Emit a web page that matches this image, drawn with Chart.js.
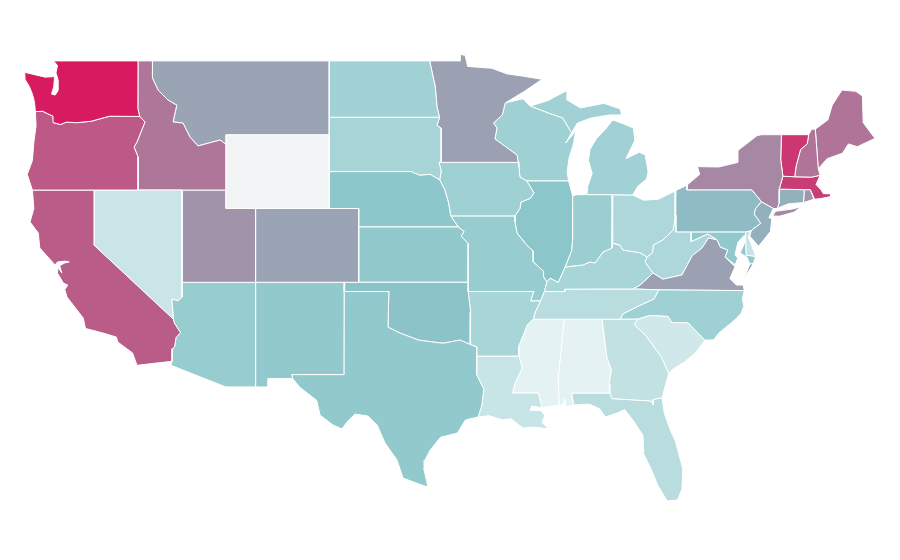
<!DOCTYPE html>
<html>
<head>
<meta charset="utf-8">
<title>US states</title>
<script src="https://cdn.jsdelivr.net/npm/chart.js@4"></script>
<style>
  body { margin: 0; background: #fff; }
  canvas { display: block; }
</style>
</head>
<body>
<canvas id="map-chart" width="900" height="560"></canvas>
<script>
// state values (null = no data)
const stateNames = ['WA','OR','CA','NV','ID','MT','WY','UT','CO','AZ','NM','TX','OK','KS','NE','SD','ND','MN','IA','MO','AR','LA','WI','IL','MI','IN','OH','KY','TN','MS','AL','GA','FL','SC','NC','VA','WV','MD','DE','NJ','PA','NY','VT','NH','ME','MA','CT','RI'];
const stateValues = [100,82,81,23,73,60,null,65,60,44,47,47,51,47,49,38,40,61,41,44,37,24,41,50,40,43,35,37,30,11,11,26,30,20,41,61,35,47,25,56,53,68,92,74,74,90,56,64];

// outlines as [lon, lat] rings
const WA = [[[-122.76,49],[-117.03,49],[-117.04,46.42],[-116.92,45.99],[-118.98,46],[-119.3,45.93],[-120.2,45.73],[-121.2,45.65],[-121.9,45.68],[-122.3,45.55],[-122.75,45.65],[-122.8,46],[-123.2,46.15],[-123.5,46.27],[-124,46.25],[-124.05,46.7],[-124.1,46.9],[-124.2,47.2],[-124.4,47.6],[-124.7,48],[-124.72,48.38],[-123.34,48.12],[-122.7,48.15],[-122.75,47.6],[-122.9,47.2],[-122.65,47.15],[-122.45,47.4],[-122.45,47.95],[-122.6,48.35],[-122.5,48.75]]];
const OR = [[[-124,46.25],[-123.5,46.27],[-123.2,46.15],[-122.8,46],[-122.75,45.65],[-122.3,45.55],[-121.9,45.68],[-121.2,45.65],[-120.2,45.73],[-119.3,45.93],[-118.98,46],[-116.92,45.99],[-116.56,45.69],[-117.1,44.6],[-117.3,44.33],[-117.03,43.8],[-117.03,42],[-124.2,42],[-124.55,42.85],[-124.2,43.6],[-124.1,44.6],[-123.95,45.5]]];
const CA = [[[-124.2,42],[-120,42],[-120,39],[-114.63,35],[-114.57,34.8],[-114.15,34.27],[-114.45,34],[-114.55,33.5],[-114.7,33.4],[-114.72,32.72],[-117.1,32.5],[-117.4,33.17],[-118.4,33.76],[-118.5,34.03],[-119.4,34.25],[-120.6,34.5],[-120.75,35.06],[-121.85,36.2],[-122,36.6],[-121.8,36.85],[-122.1,36.96],[-122.5,37.5],[-122.45,37.8],[-122.2,37.5],[-122.35,37.9],[-122,38.05],[-121.7,38.1],[-122,38.15],[-122.5,38.1],[-122.66,37.94],[-123.7,38.86],[-123.8,39.67],[-124.36,40.27],[-124.1,41]]];
const NV = [[[-120,42],[-114.04,42],[-114.04,36.2],[-114.3,36],[-114.74,36.1],[-114.63,35],[-120,39]]];
const ID = [[[-117.03,49],[-116.05,49],[-116.05,48.07],[-115.67,47.42],[-115,46.88],[-114.4,46.6],[-114.65,45.69],[-113.98,45.63],[-113.5,44.87],[-112.96,44.39],[-111.46,44.71],[-111.05,44.47],[-111.05,42],[-114.04,42],[-117.03,42],[-117.03,43.8],[-117.3,44.33],[-117.1,44.6],[-116.56,45.69],[-116.92,45.99],[-117.04,46.42]]];
const MT = [[[-116.05,49],[-104.05,49],[-104.05,45],[-111.05,45],[-111.05,44.47],[-111.46,44.71],[-112.96,44.39],[-113.5,44.87],[-113.98,45.63],[-114.65,45.69],[-114.4,46.6],[-115,46.88],[-115.67,47.42],[-116.05,48.07]]];
const WY = [[[-111.05,45],[-104.05,45],[-104.05,41],[-111.05,41]]];
const UT = [[[-114.04,42],[-111.05,42],[-111.05,41],[-109.05,41],[-109.05,37],[-114.04,37]]];
const CO = [[[-109.05,41],[-102.05,41],[-102.05,37],[-109.05,37]]];
const AZ = [[[-114.04,37],[-109.05,37],[-109.05,31.33],[-111.07,31.33],[-114.8,32.5],[-114.72,32.72],[-114.7,33.4],[-114.55,33.5],[-114.45,34],[-114.15,34.27],[-114.57,34.8],[-114.63,35],[-114.74,36.1],[-114.3,36],[-114.04,36.2]]];
const NM = [[[-109.05,37],[-103,37],[-103.04,36.5],[-103.05,32],[-106.6,32],[-106.53,31.78],[-108.2,31.78],[-108.2,31.33],[-109.05,31.33]]];
const TX = [[[-103.04,36.5],[-100,36.5],[-100.06,34.57],[-99.25,34.25],[-98,33.87],[-97,33.76],[-96.3,33.7],[-95.17,33.87],[-94.48,33.63],[-94.04,33.5],[-94.04,33],[-94.04,31.99],[-93.55,31.2],[-93.7,30.3],[-93.95,29.7],[-94.8,29.54],[-95.35,28.83],[-96.5,28.6],[-97.2,27.9],[-97.55,27.37],[-97.6,26.8],[-97.35,25.9],[-97.9,26.05],[-99.04,26.39],[-99.45,27.37],[-100.26,28.29],[-100.8,29.27],[-101.42,29.75],[-102.3,29.86],[-102.84,29.43],[-103.18,29.05],[-103.8,29.27],[-104.67,29.8],[-104.9,30.6],[-106.03,31.3],[-106.53,31.78],[-106.6,32],[-103.05,32]]];
const OK = [[[-103,37],[-94.62,37],[-94.62,36.5],[-94.45,35.4],[-94.48,33.63],[-95.17,33.87],[-96.3,33.7],[-97,33.76],[-98,33.87],[-99.25,34.25],[-100.06,34.57],[-100,36.5],[-103.04,36.5]]];
const KS = [[[-102.05,40],[-95.3,40],[-94.9,39.75],[-95.1,39.5],[-94.61,39.1],[-94.62,37],[-102.05,37]]];
const NE = [[[-104.05,43],[-98.5,43],[-97.9,42.8],[-97.2,42.85],[-96.55,42.55],[-96.2,42],[-95.95,41.3],[-95.8,40.6],[-95.3,40],[-102.05,40],[-102.05,41],[-104.05,41]]];
const SD = [[[-104.05,45.94],[-96.56,45.94],[-96.73,45.5],[-96.45,45.36],[-96.45,43.5],[-96.6,43.5],[-96.45,43.05],[-96.55,42.55],[-97.2,42.85],[-97.9,42.8],[-98.5,43],[-104.05,43]]];
const ND = [[[-104.05,49],[-97.23,49],[-96.85,47.6],[-96.73,46.5],[-96.56,45.94],[-104.05,45.94]]];
const MN = [[[-97.23,49],[-95.15,49],[-95.15,49.35],[-94.82,49.3],[-94.65,48.7],[-93,48.6],[-92,48.3],[-90.96,48.18],[-89.6,48],[-90.8,47.35],[-92.1,46.72],[-92.3,46.07],[-92.9,45.63],[-92.66,45.36],[-92.8,44.77],[-91.3,43.9],[-91.22,43.5],[-96.45,43.5],[-96.45,45.36],[-96.73,45.5],[-96.56,45.94],[-96.73,46.5],[-96.85,47.6]]];
const IA = [[[-96.6,43.5],[-91.22,43.5],[-91.17,43.25],[-91.1,42.7],[-90.65,42.5],[-90.15,41.85],[-90.4,41.55],[-91.03,41.35],[-91.1,41],[-91.44,40.6],[-95.8,40.6],[-95.95,41.3],[-96.2,42],[-96.55,42.55],[-96.45,43.05]]];
const MO = [[[-95.8,40.6],[-91.44,40.6],[-91.44,40.27],[-91.3,39.67],[-90.62,39],[-90.2,38.7],[-90.2,38.1],[-89.5,37.6],[-89.5,37.3],[-89.27,37.02],[-89.45,36.5],[-89.7,36],[-90.37,36],[-90.15,36.5],[-94.62,36.5],[-94.62,37],[-94.61,39.1],[-95.1,39.5],[-94.9,39.75],[-95.3,40]]];
const AR = [[[-94.62,36.5],[-90.15,36.5],[-90.37,36],[-89.7,36],[-90.05,35.4],[-90.2,35],[-90.6,34.7],[-91.2,33.5],[-91.17,33],[-94.04,33],[-94.04,33.5],[-94.48,33.63],[-94.45,35.4]]];
const LA = [[[-94.04,33],[-91.17,33],[-90.95,32.35],[-91.45,31.5],[-91.6,31],[-89.85,31],[-89.6,30.2],[-90.3,30.3],[-90.4,30.05],[-89.7,30.05],[-89.4,29.8],[-89.6,29.4],[-89.15,29.05],[-90.1,29.15],[-90.9,29.1],[-91.7,29.6],[-92.3,29.55],[-93.2,29.77],[-93.95,29.7],[-93.7,30.3],[-93.55,31.2],[-94.04,31.99]]];
const WI = [[[-92.1,46.72],[-90.9,46.95],[-90.4,46.55],[-89.1,46.15],[-88.2,45.9],[-87.6,45.1],[-88,44.55],[-87.3,45.2],[-87.5,44.4],[-87.75,43.8],[-87.9,43],[-87.8,42.5],[-90.65,42.5],[-91.1,42.7],[-91.17,43.25],[-91.22,43.5],[-91.3,43.9],[-92.8,44.77],[-92.66,45.36],[-92.9,45.63],[-92.3,46.07]]];
const IL = [[[-90.65,42.5],[-87.8,42.5],[-87.53,41.7],[-87.53,39.35],[-87.6,38.7],[-88.04,37.83],[-88.5,37],[-89.06,37.23],[-89.27,37.02],[-89.5,37.3],[-89.5,37.6],[-90.2,38.1],[-90.2,38.7],[-90.62,39],[-91.3,39.67],[-91.44,40.27],[-91.44,40.6],[-91.1,41],[-91.03,41.35],[-90.4,41.55],[-90.15,41.85]]];
const MI = [
  [[-86.55,41.76],[-84.8,41.75],[-83.45,41.73],[-83.1,42.2],[-82.5,42.6],[-82.4,43],[-82.6,43.9],[-83,44.05],[-83.4,43.9],[-83.9,43.7],[-83.3,44.7],[-83.4,45.36],[-84.1,45.6],[-84.8,45.8],[-85.3,45.3],[-85.9,44.8],[-86.35,44.2],[-86.45,43.6],[-86.2,42.9],[-86.5,42.2]],
  [[-87.6,45.1],[-88.2,45.9],[-89.1,46.15],[-90.4,46.55],[-89.2,46.85],[-88.5,47.15],[-87.85,47.42],[-87.9,46.88],[-87,46.45],[-85.4,46.7],[-84.3,46.4],[-84.2,46.07],[-85,46.07],[-86.3,45.9],[-87.2,45.63]]
];
const IN = [[[-87.53,41.7],[-87.2,41.75],[-84.8,41.75],[-84.85,39.13],[-84.85,38.86],[-85.46,38.64],[-86,38.05],[-86.35,38.1],[-86.82,37.94],[-88.04,37.83],[-87.6,38.7],[-87.53,39.35]]];
const OH = [[[-84.8,41.75],[-83.45,41.73],[-82.7,41.45],[-81.7,41.5],[-80.52,41.97],[-80.57,40.54],[-80.7,39.83],[-81.4,39.3],[-82.05,39.02],[-82.1,38.6],[-82.48,38.37],[-82.95,38.6],[-84.1,38.75],[-84.31,39.02],[-84.85,39.13]]];
const KY = [[[-89.45,36.5],[-89.27,37.02],[-89.06,37.23],[-88.5,37],[-88.04,37.83],[-86.82,37.94],[-86.35,38.1],[-86,38.05],[-85.46,38.64],[-84.85,38.86],[-84.85,39.13],[-84.31,39.02],[-84.1,38.75],[-82.95,38.6],[-82.48,38.37],[-82.61,38.1],[-82.07,37.5],[-82.95,36.85],[-83.43,36.64],[-88.05,36.63],[-88.07,36.5]]];
const TN = [[[-88.07,36.5],[-88.05,36.63],[-83.43,36.64],[-81.68,36.59],[-82,36.1],[-82.95,35.75],[-84.1,35.3],[-84.3,35],[-85.53,35],[-88.1,35],[-90.2,35],[-90.05,35.4],[-89.7,36],[-89.45,36.5]]];
const MS = [[[-90.2,35],[-88.1,35],[-88.5,31.85],[-88.45,30.35],[-89.6,30.2],[-89.85,31],[-91.6,31],[-91.45,31.5],[-90.95,32.35],[-91.17,33],[-91.2,33.5],[-90.6,34.7]]];
const AL = [[[-88.1,35],[-85.53,35],[-85.2,32.9],[-84.9,32.25],[-85.05,31.5],[-85,31],[-87.6,31],[-87.45,30.35],[-88,30.25],[-88.05,30.7],[-88.2,30.35],[-88.45,30.35],[-88.5,31.85]]];
const GA = [[[-85.53,35],[-83.1,35],[-83.35,34.7],[-82.6,34.15],[-81.5,32.95],[-81,32.05],[-81.2,31.5],[-81.45,30.75],[-82.05,30.65],[-82.05,30.36],[-82.2,30.57],[-84.86,30.7],[-85,31],[-85.05,31.5],[-84.9,32.25],[-85.2,32.9]]];
const FL = [[[-87.6,31],[-85,31],[-84.86,30.7],[-82.2,30.57],[-82.05,30.36],[-82.05,30.65],[-81.45,30.75],[-81.3,29.9],[-80.9,29],[-80.55,28.4],[-80.05,26.9],[-80.1,25.8],[-80.4,25.2],[-81.1,25.15],[-81.75,26],[-82.1,26.7],[-82.7,27.7],[-82.75,28.7],[-83.4,29.5],[-84,30.1],[-84.4,29.95],[-85.3,29.7],[-85.7,30.15],[-86.4,30.4],[-87.45,30.35]]];
const SC = [[[-83.1,35],[-82.3,35.2],[-81.05,35.15],[-80.8,34.82],[-79.68,34.8],[-78.55,33.86],[-79.15,33.2],[-79.9,32.7],[-80.7,32.3],[-81,32.05],[-81.5,32.95],[-82.6,34.15],[-83.35,34.7]]];
const NC = [[[-84.3,35],[-84.1,35.3],[-82.95,35.75],[-82,36.1],[-81.68,36.59],[-75.87,36.55],[-76,36.1],[-75.9,35.7],[-76.1,35.3],[-76.6,34.9],[-77.6,34.25],[-77.95,33.88],[-78.55,33.86],[-79.68,34.8],[-80.8,34.82],[-81.05,35.15],[-82.3,35.2],[-83.1,35]]];
const VA = [
  [[-83.43,36.64],[-82.95,36.85],[-82.07,37.5],[-81.4,37.17],[-80.1,37.4],[-79.4,38.45],[-78.75,38.85],[-78.3,39.4],[-77.72,39.3],[-77.5,38.9],[-77,38.75],[-77.18,38.37],[-76.5,37.85],[-76.85,37.2],[-76.4,36.85],[-75.95,36.85],[-75.87,36.55],[-81.68,36.59]],
  [[-75.98,37.15],[-75.45,37.75],[-75.25,38.03],[-75.49,37.98],[-75.75,37.5]]
];
const WV = [[[-80.52,40.65],[-80.52,39.72],[-79.48,39.72],[-79.48,39.2],[-78.35,39.62],[-77.72,39.3],[-78.3,39.4],[-78.75,38.85],[-79.4,38.45],[-80.1,37.4],[-81.4,37.17],[-82.07,37.5],[-82.61,38.1],[-82.48,38.37],[-82.1,38.6],[-82.05,39.02],[-81.4,39.3],[-80.7,39.83],[-80.57,40.54]]];
const MD = [[[-79.48,39.72],[-75.79,39.72],[-75.75,38.46],[-75.1,38.4],[-75.25,38.03],[-75.49,37.98],[-75.7,38.37],[-76.16,38.59],[-75.82,39.18],[-75.85,39.56],[-76.3,39.18],[-76.5,38.48],[-76.3,38.32],[-76.5,37.95],[-77.18,38.37],[-77,38.75],[-77.5,38.9],[-77.72,39.3],[-78.35,39.62],[-79.48,39.2]]];
const DE = [[[-75.79,39.72],[-75.4,39.8],[-75.6,39.45],[-75.4,39.05],[-75.1,38.4],[-75.75,38.46]]];
const NJ = [[[-74.7,41.36],[-73.9,41],[-74.2,40.5],[-74,40.45],[-74.1,39.75],[-74.9,38.95],[-75.5,39.5],[-75.4,39.8],[-74.75,40.2],[-75.2,40.7],[-75.1,41]]];
const PA = [[[-80.52,41.97],[-79.76,42.27],[-79.76,42],[-75.35,42],[-74.7,41.36],[-75.1,41],[-75.2,40.7],[-74.75,40.2],[-75.4,39.8],[-75.79,39.72],[-79.48,39.72],[-80.52,39.72],[-80.52,40.65]]];
const NY = [
  [[-79.76,42.27],[-78.9,42.85],[-79.05,43.27],[-77.6,43.25],[-76.3,43.5],[-76.3,44.15],[-75,44.95],[-74.7,45],[-73.35,45],[-73.4,43.65],[-73.25,42.75],[-73.5,42.05],[-73.5,41.3],[-73.65,41],[-73.9,41],[-74.7,41.36],[-75.35,42],[-79.76,42]],
  [[-73.95,40.6],[-73.75,40.85],[-72.6,40.97],[-72,41.1],[-72.5,40.8],[-73.5,40.58]]
];
const VT = [[[-73.35,45],[-71.5,45],[-71.6,44.5],[-72.05,44.2],[-72.35,43.3],[-72.45,42.72],[-73.25,42.75],[-73.4,43.65]]];
const NH = [[[-71.5,45],[-71.3,45.3],[-71.05,45.3],[-70.85,43.15],[-70.72,42.8],[-71.3,42.7],[-72.45,42.72],[-72.35,43.3],[-72.05,44.2],[-71.6,44.5]]];
const ME = [[[-71.05,45.3],[-70.2,45.8],[-69.9,46.6],[-69.24,47.42],[-68.3,47.35],[-67.85,47.1],[-67.8,45.65],[-67,44.8],[-68.2,44.35],[-68.8,44.5],[-69.2,44],[-70.25,43.7],[-70.85,43.15]]];
const MA = [[[-73.5,42.05],[-73.25,42.75],[-72.45,42.72],[-71.3,42.7],[-70.72,42.8],[-71,42.3],[-70.65,42],[-70.5,41.8],[-70,41.8],[-70,41.65],[-70.6,41.55],[-71.1,41.5],[-71.38,42.02],[-71.8,42.02]]];
const CT = [[[-73.5,42.05],[-71.8,42.02],[-71.85,41.32],[-72.9,41.25],[-73.65,41],[-73.5,41.3]]];
const RI = [[[-71.8,42.02],[-71.38,42.02],[-71.15,41.5],[-71.85,41.32]]];
const stateOutlines = [WA,OR,CA,NV,ID,MT,WY,UT,CO,AZ,NM,TX,OK,KS,NE,SD,ND,MN,IA,MO,AR,LA,WI,IL,MI,IN,OH,KY,TN,MS,AL,GA,FL,SC,NC,VA,WV,MD,DE,NJ,PA,NY,VT,NH,ME,MA,CT,RI];

// white -> teal at 50 -> pink at 100
const colorStops = [[255,255,255],[138,198,202],[216,27,96]];
const noDataColor = '#f2f3f5';

function valueColor(v) {
    if (v === null) return noDataColor;
    const seg = v < 50 ? 0 : 1;
    const t = (v - seg * 50) / 50;
    const c = [0, 1, 2].map(i => Math.round(colorStops[seg][i] + (colorStops[seg + 1][i] - colorStops[seg][i]) * t));
    return `rgb(${c[0]},${c[1]},${c[2]})`;
}

const datasets = [];
stateNames.forEach((name, i) => {
    stateOutlines[i].forEach(ring => {
        const closed = ring.concat([ring[0]]);
        datasets.push({
            label: name,
            data: closed.map(p => ({ x: p[0], y: p[1] })),
            showLine: true,
            fill: 'shape',
            backgroundColor: valueColor(stateValues[i]),
            borderColor: '#fff',
            borderWidth: 1,
            pointRadius: 0,
            tension: 0,
        });
    });
});

const ctx = document.getElementById('map-chart');
const mapChart = new Chart(ctx, {
    type: 'scatter',
    data: { datasets: datasets },
    options: {
        responsive: false,
        animation: false,
        plugins: {
            legend: { display: false },
            tooltip: { enabled: false },
        },
        scales: {
            x: { type: 'linear', display: false, min: -126.4, max: -65.3 },
            y: { type: 'linear', display: false, min: 21.95, max: 52.3 },
        },
    },
});
</script>
</body>
</html>
